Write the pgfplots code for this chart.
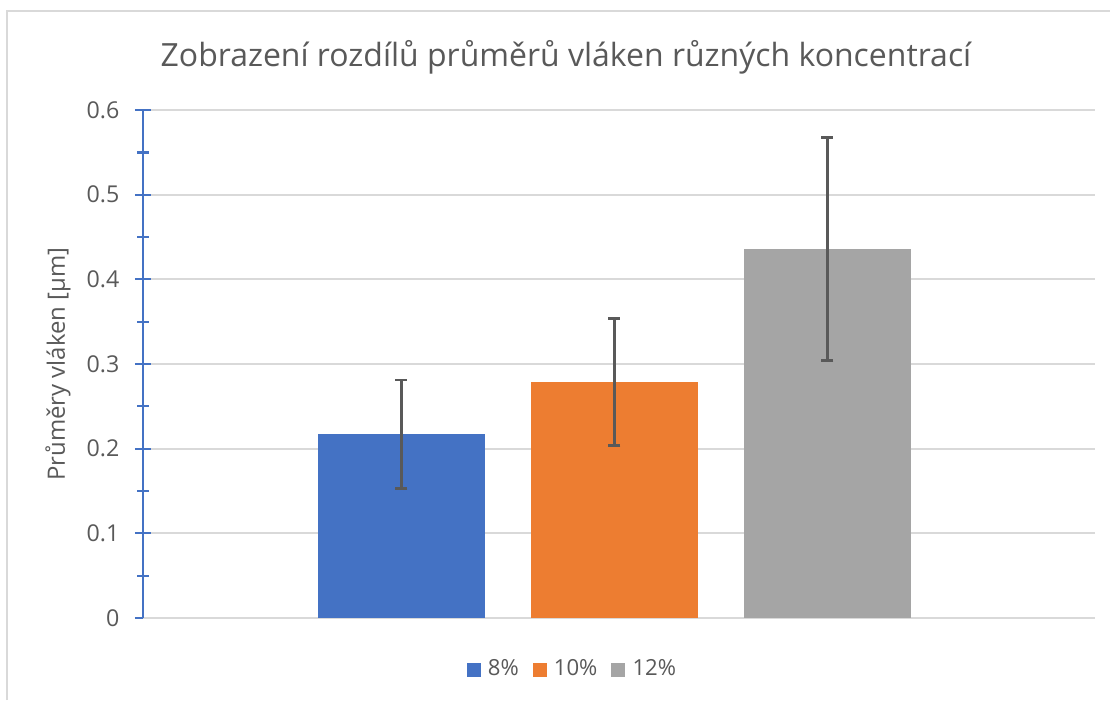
\documentclass[border=0pt]{standalone}
\usepackage{fontspec}
\setmainfont{Open Sans}
\usepackage{pgfplots}
\pgfplotsset{compat=1.18}
\definecolor{barblue}{HTML}{4472C4}
\definecolor{barorange}{HTML}{ED7D31}
\definecolor{bargray}{HTML}{A5A5A5}
\definecolor{txtgray}{HTML}{595959}
\definecolor{gridgray}{HTML}{D9D9D9}
\definecolor{framegray}{HTML}{D9D9D9}
\definecolor{errgray}{HTML}{595959}

\begin{document}
\begin{tikzpicture}
\useasboundingbox (0,0) rectangle (11.10,7.00);
\fill[white] (0,0) rectangle (11.10,7.00);
% chart frame (cut off at right and bottom)
\draw[framegray, line width=0.7pt] (0.07,0) -- (0.07,6.89) -- (11.10,6.89);

\begin{axis}[
  at={(1.43cm,0.82cm)}, anchor=south west,
  scale only axis, width=9.52cm, height=5.08cm,
  xmin=-0.2136, xmax=4.256,
  ymin=0, ymax=0.6,
  ytick={0,0.1,...,0.6},
  minor y tick num=1,
  xtick=\empty,
  axis x line=bottom, axis y line=left,
  x axis line style={-, draw=gridgray, line width=0.6pt},
  y axis line style={-, draw=barblue, line width=0.75pt},
  ymajorgrids, grid style={gridgray, line width=0.55pt},
  tick align=center,
  major tick length=0.16cm, minor tick length=0.12cm,
  every tick/.style={barblue, line width=0.65pt},
  yticklabel style={font=\fontsize{6.6}{7}\selectfont, text=txtgray, inner sep=0pt, anchor=east, xshift=-0.15cm},
  /pgf/number format/assume math mode=true,
  /pgf/number format/.cd, fixed, precision=1, /pgfplots/.cd,
  ylabel={Průměry vláken [µm]},
  every axis y label/.style={at={(axis description cs:-0.0893,0.5)}, rotate=90, anchor=center,
    font=\fontsize{6.8}{7}\selectfont, text=txtgray},
  title={Zobrazení rozdílů průměrů vláken různých koncentrací},
  title style={font=\fontsize{9.1}{10}\selectfont, text=txtgray, at={(axis description cs:0.4443,1.0866)}, anchor=base, yshift=-6pt, inner sep=0pt},
  bar width=0.784, bar shift=0pt,
  legend style={at={(axis description cs:0.4538,-0.1024)}, anchor=center, draw=none,
    font=\fontsize{6.3}{7}\selectfont, text=txtgray, legend columns=3,
    /tikz/every even column/.append style={column sep=0.07cm},
    inner sep=0pt},
  legend image code/.code={\fill[#1] (0cm,-0.07cm) rectangle (0.14cm,0.07cm);},
  error bars/error bar style={errgray, line width=0.75pt},
  error bars/error mark options={rotate=90, errgray, mark size=0.06cm, line width=0.75pt},
]
\addplot[ybar, fill=barblue, draw=none,
  error bars/.cd, y dir=both, y explicit]
  coordinates {(1,0.2173) +- (0,0.064)};
\addplot[ybar, fill=barorange, draw=none,
  error bars/.cd, y dir=both, y explicit]
  coordinates {(2,0.2791) +- (0,0.075)};
\addplot[ybar, fill=bargray, draw=none,
  error bars/.cd, y dir=both, y explicit]
  coordinates {(3,0.4356) +- (0,0.1317)};
\legend{8\%, 10\%, 12\%}
\end{axis}
\end{tikzpicture}
\end{document}
